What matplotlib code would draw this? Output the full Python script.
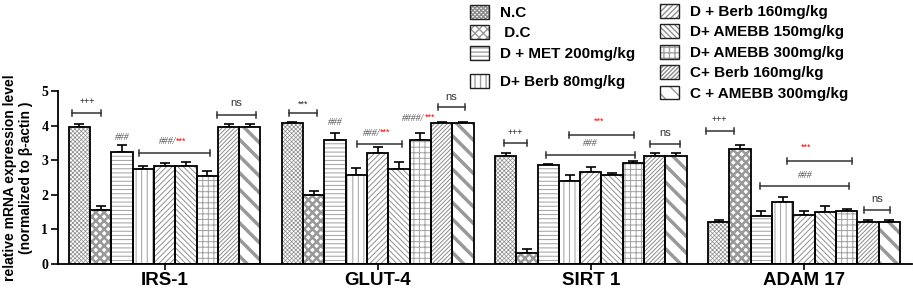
import matplotlib
matplotlib.use('Agg')
import numpy as np
import matplotlib.pyplot as plt
from matplotlib.patches import Patch

genes = ['IRS-1', 'GLUT-4', 'SIRT 1', 'ADAM 17']
labels = ['N.C', ' D.C', 'D + MET 200mg/kg', 'D+ Berb 80mg/kg', 'D + Berb 160mg/kg',
          'D+ AMEBB 150mg/kg', 'D+ AMEBB 300mg/kg', 'C+ Berb 160mg/kg', 'C + AMEBB 300mg/kg']

nc = [3.95, 4.07, 3.11, 1.21]
dc = [1.56, 2.00, 0.32, 3.32]
met = [3.23, 3.58, 2.85, 1.39]
berb80 = [2.75, 2.56, 2.39, 1.80]
berb160 = [2.83, 3.20, 2.66, 1.42]
amebb150 = [2.83, 2.74, 2.57, 1.50]
amebb300 = [2.54, 3.58, 2.93, 1.53]
c_berb160 = [3.95, 4.07, 3.11, 1.20]
c_amebb300 = [3.95, 4.07, 3.11, 1.20]

nc_err = [0.10, 0.04, 0.09, 0.07]
dc_err = [0.12, 0.12, 0.12, 0.13]
met_err = [0.22, 0.20, 0.05, 0.15]
berb80_err = [0.07, 0.22, 0.19, 0.14]
berb160_err = [0.10, 0.18, 0.15, 0.10]
amebb150_err = [0.12, 0.21, 0.05, 0.17]
amebb300_err = [0.16, 0.22, 0.05, 0.07]
c_berb160_err = [0.10, 0.04, 0.09, 0.08]
c_amebb300_err = [0.10, 0.04, 0.09, 0.08]

values = [nc, dc, met, berb80, berb160, amebb150, amebb300, c_berb160, c_amebb300]
errors = [nc_err, dc_err, met_err, berb80_err, berb160_err, amebb150_err,
          amebb300_err, c_berb160_err, c_amebb300_err]

# significance brackets: (x1, x2, y) and labels (x, y, text)
brackets = [(-4.32, -2.96, 4.36), (-1.22, 2.11, 3.20), (2.44, 4.27, 4.30),
            (5.82, 7.14, 4.36), (9.01, 11.13, 3.47), (12.82, 14.08, 4.53),
            (15.92, 17.00, 3.50), (18.97, 22.02, 3.73), (17.89, 22.07, 3.15), (22.77, 24.18, 3.47),
            (25.40, 26.71, 3.84), (29.20, 32.25, 2.98), (27.93, 32.10, 2.25), (32.82, 34.04, 1.56)]
plus_marks = [(-3.64, 4.71, '+++'), (6.48, 4.62, '***'), (16.46, 3.81, '+++'), (26.05, 4.19, '+++')]
hash_marks = [(-2.0, 3.67, '###'), (8.0, 4.08, '###'), (19.95, 3.47, '###'), (30.05, 2.57, '###')]
combo_marks = [(0.55, 3.53, '###/'), (10.1, 3.78, '###/'), (12.2, 4.2, '####/')]
red_marks = [(20.38, 4.14), (30.1, 3.38)]
ns_marks = [(3.36, 4.65), (13.45, 4.83), (23.47, 3.78), (33.43, 1.88)]

hatches = ['xxxxxxxx', 'xxxx', '----', '|||', '//////', '\\\\\\\\\\\\', '+++', '////////', '\\\\']
hatch_lw = [0.5, 1.8, 0.7, 0.7, 0.7, 0.7, 0.7, 0.7, 2.5]
hatch_col = ['#8c8c8c', '#999999', '#a0a0a0', '#a0a0a0', '#909090', '#909090',
             '#a0a0a0', '#8c8c8c', '#999999']

fig = plt.figure(figsize=(9.13, 2.91), dpi=100)
ax = fig.add_axes([58/913, 27/291, 854/913, 173/291])

x = np.arange(len(genes)) * 10
handles = []
for i in range(len(values)):
    pos = x + i - 4
    with plt.rc_context({'hatch.linewidth': hatch_lw[i]}):
        hb = ax.bar(pos, values[i], width=1.0, color='white', edgecolor=hatch_col[i],
                    hatch=hatches[i], linewidth=0, zorder=2)
        for b in hb:
            if hasattr(b, 'set_hatch_linewidth'):
                b.set_hatch_linewidth(hatch_lw[i])
        ax.bar(pos, values[i], width=1.0, fill=False, edgecolor='black',
               linewidth=1.3, zorder=3)
        ax.errorbar(pos, values[i], yerr=[np.zeros(len(genes)), errors[i]], fmt='none',
                    ecolor='black', elinewidth=1.2, capsize=3.5, capthick=1.2, zorder=1)
        hp = Patch(facecolor='white', edgecolor=hatch_col[i], hatch=hatches[i], linewidth=0)
        if hasattr(hp, 'set_hatch_linewidth'):
            hp.set_hatch_linewidth(hatch_lw[i])
    he = Patch(facecolor='none', edgecolor='#222222', linewidth=1.0)
    handles.append((hp, he))

for x1, x2, y in brackets:
    ax.plot([x1, x2], [y, y], color='#333333', lw=1.1, clip_on=False, zorder=4)
    ax.plot([x1, x1], [y - 0.09, y + 0.09], color='#333333', lw=1.1, clip_on=False, zorder=4)
    ax.plot([x2, x2], [y - 0.09, y + 0.09], color='#333333', lw=1.1, clip_on=False, zorder=4)

for px, py, t in plus_marks:
    ax.text(px, py, t, ha='center', va='center', fontsize=6.5, color='#222222',
            family='Liberation Sans')
for px, py, t in hash_marks:
    ax.text(px, py, t, ha='center', va='center', fontsize=7, color='#555555',
            style='italic', family='Liberation Serif')
for px, py, t in combo_marks:
    ax.text(px, py, t, ha='right', va='center', fontsize=7, color='#555555',
            style='italic', family='Liberation Serif')
    ax.text(px, py + 0.03, '***', ha='left', va='center', fontsize=6.5, color='red',
            family='Liberation Sans')
for px, py in red_marks:
    ax.text(px, py, '***', ha='center', va='center', fontsize=6.5, color='red',
            family='Liberation Sans')
for px, py in ns_marks:
    ax.text(px, py, 'ns', ha='center', va='center', fontsize=8, color='#333333',
            family='Liberation Sans')

ax.set_xlim(-5.0, 35.07)
ax.set_ylim(0, 5)
ax.set_xticks(x)
ax.set_xticklabels(genes, fontsize=13.5, fontweight='bold', family='Liberation Sans')
ax.set_yticks(range(6))
ax.set_yticklabels([str(v) for v in range(6)], fontsize=10, fontweight='bold',
                   family='Liberation Serif')
ax.tick_params(axis='x', length=4, width=1.2, pad=2)
ax.tick_params(axis='y', length=5, width=1.2, pad=2)
ax.spines['top'].set_visible(False)
ax.spines['right'].set_visible(False)
ax.spines['left'].set_linewidth(1.3)
ax.spines['bottom'].set_linewidth(1.3)
ax.set_ylabel('relative mRNA expression level\n(normalized to \u03b2-actin )', fontsize=10,
              fontweight='bold', family='Liberation Sans', labelpad=6)

leg_font = {'family': 'Liberation Sans', 'weight': 'bold', 'size': 11}
leg_kw = dict(loc='upper left', frameon=False, prop=leg_font, handlelength=1.25,
              handleheight=1.0, handletextpad=0.7, borderpad=0, borderaxespad=0)
fig.legend(handles[:3], labels[:3], bbox_to_anchor=(470/913, 1 - 5/291),
           labelspacing=0.35, **leg_kw)
fig.legend(handles[3:4], labels[3:4], bbox_to_anchor=(470/913, 1 - 74/291), **leg_kw)
fig.legend(handles[4:], labels[4:], bbox_to_anchor=(660/913, 1 - 4/291),
           labelspacing=0.35, **leg_kw)

fig.savefig('out.png', dpi=100)
